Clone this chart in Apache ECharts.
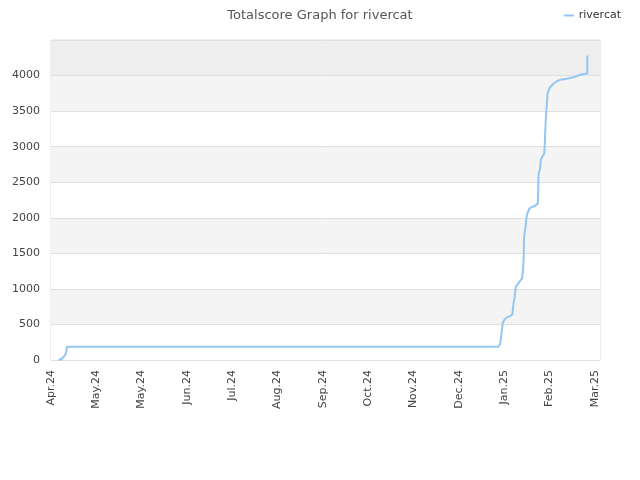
<!DOCTYPE html>
<html>
<head>
<meta charset="utf-8">
<script src="https://cdn.jsdelivr.net/npm/echarts@6/dist/echarts.min.js"></script>
<style>html,body{margin:0;padding:0;background:#fff}#c{width:640px;height:480px}</style>
</head>
<body>
<div id="c"></div>
<script>
// days since 2024-04-01 (fractional) and total score
var dayOffsets = [5.0, 7.3, 8.3, 9.5, 10.1, 10.6, 296.2, 297.4, 298.5, 298.7, 299.1, 300.0, 301.8, 304.0, 305.5, 305.8, 306.2, 306.9, 307.3, 307.7, 308.1, 310.1, 311.9, 312.4, 312.6, 313.0, 313.2, 313.7, 314.4, 314.6, 315.4, 316.7, 318.3, 319.9, 322.3, 322.5, 322.7, 322.9, 323.8, 324.3, 325.1, 326.5, 326.9, 327.1, 327.6, 328.0, 328.5, 328.7, 329.4, 330.5, 332.6, 334.9, 337.1, 341.5, 345.9, 350.3, 353.6, 355.1, 355.1];
var scores = [0, 18, 38, 74, 116, 187, 187, 225, 234, 445, 515, 561, 599, 618, 641, 702, 796, 866, 888, 1029, 1053, 1099, 1147, 1169, 1287, 1450, 1731, 1801, 1895, 1965, 2059, 2129, 2152, 2161, 2199, 2292, 2526, 2620, 2691, 2807, 2853, 2901, 2994, 3158, 3368, 3509, 3649, 3743, 3789, 3836, 3884, 3920, 3940, 3954, 3976, 4010, 4024, 4024, 4281];
var monthNames = ['Jan','Feb','Mar','Apr','May','Jun','Jul','Aug','Sep','Oct','Nov','Dec'];
var startYear = 2024, startMonth = 3, startDay = 1;
var seriesName = 'rivercat';
var titleText = 'Totalscore Graph for rivercat';

var data = dayOffsets.map(function (d, i) { return [d, scores[i]]; });

function dayLabel(v) {
  if (Math.abs(v % 30) > 1e-6) return '';
  var dt = new Date(startYear, startMonth, startDay + v);
  return monthNames[dt.getMonth()] + '.' + String(dt.getFullYear()).slice(2);
}

var chart = echarts.init(document.getElementById('c'));
chart.setOption({
  animation: false,
  title: {
    text: titleText, left: 'center', top: 4,
    textStyle: { fontSize: 13, fontWeight: 'normal', color: '#555', fontFamily: 'DejaVu Sans' }
  },
  legend: {
    data: [seriesName], right: 14, top: 5,
    icon: 'rect', itemWidth: 10, itemHeight: 2, itemGap: 6,
    textStyle: { fontSize: 11, color: '#333', fontFamily: 'DejaVu Sans' }
  },
  grid: { left: 51, right: 40, top: 40, bottom: 120, show: true, borderColor: '#dddddd', borderWidth: 1, backgroundColor: 'transparent' },
  xAxis: {
    type: 'value', min: 0, max: 363.5, interval: 30,
    axisLine: { show: false }, axisTick: { show: false }, splitLine: { show: false },
    axisLabel: { rotate: 90, fontSize: 11, color: '#444', margin: 10, fontFamily: 'DejaVu Sans', formatter: dayLabel }
  },
  yAxis: {
    type: 'value', min: 0, max: 4500, interval: 500,
    axisLine: { show: false }, axisTick: { show: false },
    splitLine: { show: true, lineStyle: { color: '#e0e0e0', width: 1 } },
    splitArea: { show: true, areaStyle: { color: ['#ffffff','#f4f4f4','#ffffff','#f4f4f4','#ffffff','#f4f4f4','#ffffff','#f4f4f4','#eeeeee'] } },
    axisLabel: { fontSize: 11, color: '#444', margin: 11, fontFamily: 'DejaVu Sans', showMaxLabel: false,
      formatter: function (v) { return v >= 4500 ? '' : String(v); } }
  },
  series: [{
    name: seriesName, type: 'line', data: data, showSymbol: false, symbol: 'none',
    lineStyle: { color: '#94c6f4', width: 2 }, itemStyle: { color: '#94c6f4' }
  }]
});
</script>
</body>
</html>
